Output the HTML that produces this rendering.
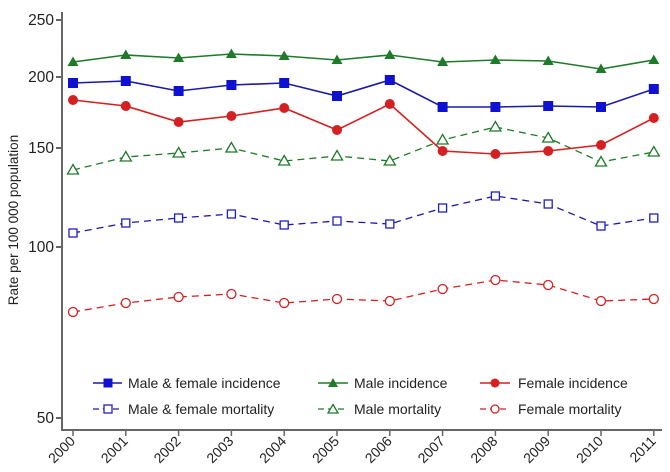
<!DOCTYPE html>
<html><head><style>body{margin:0;background:#fff}svg{display:block}text{font-family:"Liberation Sans",Arial,sans-serif;fill:#222}</style></head><body>
<svg width="670" height="472" viewBox="0 0 670 472" xmlns="http://www.w3.org/2000/svg">
<rect width="670" height="472" fill="#fff"/>
<g stroke="#666" stroke-width="2" fill="none">
<line x1="62" y1="12" x2="62" y2="430"/>
<line x1="61" y1="430" x2="662" y2="430"/>
<line x1="56" y1="20" x2="62" y2="20"/><line x1="56" y1="77" x2="62" y2="77"/><line x1="56" y1="148" x2="62" y2="148"/><line x1="56" y1="247" x2="62" y2="247"/><line x1="56" y1="418" x2="62" y2="418"/>
</g>
<g font-size="15.5" text-anchor="end">
<text x="54" y="25">250</text><text x="54" y="82">200</text><text x="54" y="153">150</text><text x="54" y="252">100</text><text x="54" y="423">50</text>
</g>
<text transform="translate(18,220) rotate(-90)" font-size="13.5" text-anchor="middle">Rate per 100 000 population</text>
<g id="xt" stroke="#666" stroke-width="1.5"></g>
<g font-size="14" text-anchor="end" id="xl"></g>
<g id="series"></g>
<g font-size="14">
<line x1="93" y1="383" x2="122" y2="383" stroke="#1a1aa8" stroke-width="1.5"/><rect x="103.5" y="378.5" width="9" height="9" fill="#1010d0"/><text x="128" y="388">Male &amp; female incidence</text>
<line x1="318" y1="383" x2="348" y2="383" stroke="#1f7a2a" stroke-width="1.5"/><polygon points="333,378 338,387 328,387" fill="#1f7a2a"/><text x="354" y="388">Male incidence</text>
<line x1="480" y1="383" x2="510" y2="383" stroke="#d42020" stroke-width="1.5"/><circle cx="495" cy="383" r="4.5" fill="#d42020"/><text x="518" y="388">Female incidence</text>
<line x1="93" y1="409" x2="122" y2="409" stroke="#1a1aa8" stroke-width="1.2" stroke-dasharray="6 4"/><rect x="104" y="405" width="8" height="8" fill="#fff" stroke="#2020c0" stroke-width="1.3"/><text x="128" y="414">Male &amp; female mortality</text>
<line x1="318" y1="409" x2="348" y2="409" stroke="#1f7a2a" stroke-width="1.2" stroke-dasharray="6 4"/><polygon points="333,404.5 338,413 328,413" fill="#fff" stroke="#1f7a2a" stroke-width="1.3"/><text x="354" y="414">Male mortality</text>
<line x1="480" y1="409" x2="510" y2="409" stroke="#d42020" stroke-width="1.2" stroke-dasharray="6 4"/><circle cx="495" cy="409" r="4" fill="#fff" stroke="#d42020" stroke-width="1.3"/><text x="518" y="414">Female mortality</text>
</g>
<script>
var ns="http://www.w3.org/2000/svg";
function X(i){return 73+i*52.8}
var xt=document.getElementById('xt'),xl=document.getElementById('xl');
for(var i=0;i<12;i++){var l=document.createElementNS(ns,'line');l.setAttribute('x1',X(i));l.setAttribute('x2',X(i));l.setAttribute('y1',430);l.setAttribute('y2',436);xt.appendChild(l);
var t=document.createElementNS(ns,'text');t.setAttribute('transform','translate('+(X(i)+3)+',442) rotate(-45)');t.textContent=2000+i;xl.appendChild(t);}
var S=[
[[233,223,218,214,225,221,224,208,196,204,226,218],'#1a1aa8','sq',1],
[[170,157,153,148,161,156,161,140,127,138,162,152],'#1f7a2a','tri',1],
[[312,303,297,294,303,299,301,289,280,285,301,299],'#d42020','ci',1],
[[83,81,91,85,83,96,80,107,107,106,107,89],'#1a1aa8','sq',0],
[[62,55,58,54,56,60,55,62,60,61,69,60],'#1f7a2a','tri',0],
[[100,106,122,116,108,130,104,151,154,151,145,118],'#d42020','ci',0]];
var g=document.getElementById('series');
S.forEach(function(s){var d=s[0],c=s[1],h=s[3];var p=document.createElementNS(ns,'polyline');
p.setAttribute('points',d.map(function(y,i){return X(i)+','+y}).join(' '));p.setAttribute('fill','none');p.setAttribute('stroke',c);p.setAttribute('stroke-width',h?1.3:1.6);if(h)p.setAttribute('stroke-dasharray','7 5');g.appendChild(p);
d.forEach(function(y,i){var x=X(i),e;
if(s[2]=='sq'){e=document.createElementNS(ns,'rect');var w=h?8:10;e.setAttribute('x',x-w/2);e.setAttribute('y',y-w/2);e.setAttribute('width',w);e.setAttribute('height',w);}
else if(s[2]=='tri'){e=document.createElementNS(ns,'polygon');e.setAttribute('points',x+','+(y-5.5)+' '+(x+5.5)+','+(y+4)+' '+(x-5.5)+','+(y+4));}
else{e=document.createElementNS(ns,'circle');e.setAttribute('cx',x);e.setAttribute('cy',y);e.setAttribute('r',h?4.5:5);}
if(h){e.setAttribute('fill','#fff');e.setAttribute('stroke',c=='#1a1aa8'?'#2020c0':c);e.setAttribute('stroke-width',1.3);}else{e.setAttribute('fill',c=='#1a1aa8'?'#1010d0':c);}
g.appendChild(e);});});
</script>
</svg>
</body></html>
